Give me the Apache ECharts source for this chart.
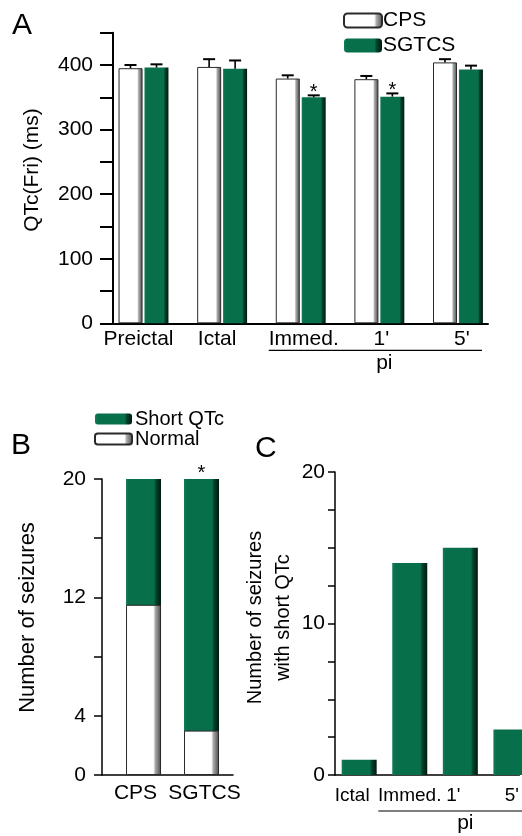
<!DOCTYPE html>
<html><head><meta charset="utf-8">
<script src="https://cdn.jsdelivr.net/npm/echarts@6/dist/echarts.min.js"></script>
<style>html,body{margin:0;padding:0;background:#fff}#c{width:522px;height:836px}</style>
</head><body><div id="c"></div>
<script>
const FONT = 'Liberation Sans, Arial, sans-serif';
// Panel A
const catsA = ['Preictal', 'Ictal', 'Immed.', "1'", "5'"];
const cpsA = [395, 397, 379, 378, 404];
const cpsErrA = [5, 12, 5, 5, 5];
const sgtcsA = [396, 394, 350, 351, 393];
const sgtcsErrA = [5, 13, 3, 5, 6];
const sgtcsSigA = [0, 0, 1, 1, 0];
const yLabelsA = [0, 100, 200, 300, 400];
// Panel B
const catsB = ['CPS', 'SGTCS'];
const normalB = [11.5, 3];
const shortB = [8.5, 17];
const sigB = [0, 1];
const yLabelsB = [0, 4, 12, 20];
// Panel C
const catsC = ['Ictal', 'Immed.', "1'", "5'"];
const shortC = [1, 14, 15, 3];
const yLabelsC = [0, 10, 20];
// "pi" brackets: [first index, last index, label index]
const piA = [2, 4, 3];
const piC = [1, 3, 2];
// label horizontal nudges (px), style only
const nudgeA = [-5, -5, 3, 2, 4];
const nudgeB = [-8, 3];
const nudgeC = [-7, 0, -7, 1];

const G = echarts.graphic;
const whiteFill = new G.LinearGradient(0, 0, 1, 0, [
  {offset: 0, color: '#ffffff'}, {offset: 0.78, color: '#ffffff'},
  {offset: 0.84, color: '#a8a8a8'}, {offset: 1, color: '#4a4a4a'}]);
const greenFill = new G.LinearGradient(0, 0, 1, 0, [
  {offset: 0, color: '#137c55'}, {offset: 0.08, color: '#07704a'}, {offset: 0.8, color: '#07704a'},
  {offset: 0.86, color: '#03412a'}, {offset: 1, color: '#011a0f'}]);
const whiteStyle = {color: whiteFill, borderColor: '#2a2a2a', borderWidth: 1};
const greenStyle = {color: greenFill};

function errRender(offset) {
  return function (params, api) {
    const i = api.value(0), v = api.value(1), e = api.value(2), s = api.value(3);
    const p0 = api.coord([i, v]), p1 = api.coord([i, v + e]);
    const x = p0[0] + offset;
    const ch = [
      {type: 'line', shape: {x1: x, y1: p0[1], x2: x, y2: p1[1]}, style: {stroke: '#000', lineWidth: 1.6}},
      {type: 'line', shape: {x1: x - 6, y1: p1[1], x2: x + 6, y2: p1[1]}, style: {stroke: '#000', lineWidth: 2}}
    ];
    if (s) ch.push({type: 'text', x: x, y: p1[1] - 2.5,
      style: {text: '*', fontSize: 20, fontFamily: FONT, fill: '#000', align: 'center', verticalAlign: 'middle'}});
    return {type: 'group', children: ch};
  };
}
function piRender(left, right, drop, fs) {
  return function (params, api) {
    const a = api.coord([api.value(0), 0]), b = api.coord([api.value(1), 0]), m = api.coord([api.value(2), 0]);
    return {type: 'group', children: [
      {type: 'line', shape: {x1: a[0] - left, y1: a[1] + drop, x2: b[0] + right, y2: a[1] + drop}, style: {stroke: '#000', lineWidth: 1.2}},
      {type: 'text', x: m[0] + 5, y: a[1] + drop + 2,
        style: {text: 'pi', fontSize: fs, fontFamily: FONT, fill: '#000', align: 'center', verticalAlign: 'top'}}
    ]};
  };
}
function starRender(params, api) {
  const i = api.value(0), v = api.value(1), s = api.value(2);
  if (!s) return null;
  const p = api.coord([i, v]);
  return {type: 'text', x: p[0], y: p[1] - 6,
    style: {text: '*', fontSize: 20, fontFamily: FONT, fill: '#000', align: 'center', verticalAlign: 'middle'}};
}
function catLabel(cats, nudges, fs) {
  const rich = {};
  nudges.forEach((d, i) => {
    rich['k' + i] = {fontSize: fs, fontFamily: FONT, color: '#000',
      padding: d < 0 ? [0, 0, 0, 2 * d] : [0, -2 * d, 0, 0]};
  });
  return {
    customValues: cats.map((c, i) => i),
    showMinLabel: true, showMaxLabel: true, hideOverlap: false,
    formatter: v => { const i = Math.round(v); return '{k' + i + '|' + cats[i] + '}'; },
    rich: rich, fontSize: fs, fontFamily: FONT, color: '#000'
  };
}

const txt = {color: '#000', fontFamily: FONT};
function yAxisCommon(lw, tickLen) {
  return {
    axisLine: {show: true, onZero: false, lineStyle: {color: '#000', width: lw}},
    axisTick: {show: true, inside: false, length: tickLen, lineStyle: {color: '#000', width: lw}},
    splitLine: {show: false}
  };
}
function xAxisLine(lw) {
  return {show: true, onZero: false, lineStyle: {color: '#000', width: lw}};
}

const option = {
  animation: false,
  backgroundColor: '#fff',
  textStyle: {fontFamily: FONT},
  title: [
    {text: 'A', left: 7, top: 6, textStyle: {fontSize: 30, fontWeight: 'normal', color: '#000', fontFamily: FONT}},
    {text: 'B', left: 6, top: 426, textStyle: {fontSize: 30, fontWeight: 'normal', color: '#000', fontFamily: FONT}},
    {text: 'C', left: 250, top: 429, textStyle: {fontSize: 30, fontWeight: 'normal', color: '#000', fontFamily: FONT}}
  ],
  legend: [
    {data: ['CPS', 'SGTCS'], orient: 'vertical', left: 343, top: 10, padding: 0, itemGap: 4,
      itemWidth: 38, itemHeight: 14, textStyle: {fontSize: 21, lineHeight: 21, color: '#000', fontFamily: FONT, padding: [0, 0, 0, -4]}},
    {data: ['Short QTc', 'Normal'], orient: 'vertical', left: 94, top: 409, padding: 0, itemGap: 0,
      itemWidth: 37, itemHeight: 11, textStyle: {fontSize: 20, lineHeight: 19, color: '#000', fontFamily: FONT, padding: [0, 0, 0, -2]}}
  ],
  grid: [
    {left: 113, top: 32.7, width: 375, height: 290.6},
    {left: 102, top: 479, width: 131, height: 296},
    {left: 335, top: 472, right: 0, height: 303}
  ],
  xAxis: [
    {gridIndex: 0, type: 'value', min: -0.388, max: 4.382,
      axisLine: xAxisLine(2), axisTick: {show: false}, splitLine: {show: false},
      axisLabel: {...catLabel(catsA, nudgeA, 21), margin: 5}},
    {gridIndex: 1, type: 'value', min: -0.716, max: 1.543,
      axisLine: xAxisLine(1.5), axisTick: {show: false}, splitLine: {show: false},
      axisLabel: {...catLabel(catsB, nudgeB, 21), margin: 8}},
    {gridIndex: 2, type: 'value', min: -0.478, max: 3.167,
      axisLine: xAxisLine(1.5), axisTick: {show: false}, splitLine: {show: false},
      axisLabel: {...catLabel(catsC, nudgeC, 19), margin: 11}}
  ],
  yAxis: [
    {gridIndex: 0, type: 'value', min: 0, max: 450, interval: 50, ...yAxisCommon(2, 13),
      axisLabel: {customValues: yLabelsA, fontSize: 21, margin: 20, ...txt},
      name: 'QTc(Fri) (ms)', nameLocation: 'middle', nameGap: 70,
      nameTextStyle: {fontSize: 21, padding: [0, 0, 0, 16], ...txt}},
    {gridIndex: 1, type: 'value', min: 0, max: 20, interval: 4, ...yAxisCommon(1.5, 8),
      axisLabel: {customValues: yLabelsB, fontSize: 21, margin: 16, ...txt},
      name: 'Number of seizures', nameLocation: 'middle', nameGap: 63,
      nameTextStyle: {fontSize: 22, padding: [0, 0, 0, 19], ...txt}},
    {gridIndex: 2, type: 'value', min: 0, max: 20, interval: 2.5, ...yAxisCommon(1.5, 7),
      axisLabel: {customValues: yLabelsC, fontSize: 21, margin: 10, ...txt},
      name: 'Number of seizures\nwith short QTc', nameLocation: 'middle', nameGap: 24,
      nameTextStyle: {fontSize: 20, lineHeight: 28, padding: [0, 0, 0, 12], ...txt}}
  ],
  series: [
    {name: 'CPS', type: 'bar', xAxisIndex: 0, yAxisIndex: 0, barWidth: 24, barGap: '8%',
      data: cpsA.map((v, i) => [i, v]), itemStyle: whiteStyle},
    {name: 'SGTCS', type: 'bar', xAxisIndex: 0, yAxisIndex: 0, barWidth: 24, barGap: '8%',
      data: sgtcsA.map((v, i) => [i, v]), itemStyle: greenStyle},
    {type: 'custom', xAxisIndex: 0, yAxisIndex: 0, renderItem: errRender(-13), z: 5,
      data: cpsA.map((v, i) => [i, v, cpsErrA[i], 0]), encode: {x: 0, y: 1}},
    {type: 'custom', xAxisIndex: 0, yAxisIndex: 0, renderItem: errRender(13), z: 5,
      data: sgtcsA.map((v, i) => [i, v, sgtcsErrA[i], sgtcsSigA[i]]), encode: {x: 0, y: 1}},
    {type: 'custom', xAxisIndex: 0, yAxisIndex: 0, renderItem: piRender(32, 24, 27, 21), clip: false,
      data: [piA], encode: {x: 0, y: -1}},

    // B: total (green, Short QTc on top) with Normal overlaid from the base
    {name: 'Short QTc', type: 'bar', xAxisIndex: 1, yAxisIndex: 1, barWidth: 35, barGap: '-100%',
      data: shortB.map((v, i) => [i, normalB[i] + v]), itemStyle: greenStyle},
    {name: 'Normal', type: 'bar', xAxisIndex: 1, yAxisIndex: 1, barWidth: 35, barGap: '-100%',
      data: normalB.map((v, i) => [i, v]), itemStyle: whiteStyle},
    {type: 'custom', xAxisIndex: 1, yAxisIndex: 1, renderItem: starRender, clip: false,
      data: sigB.map((s, i) => [i, normalB[i] + shortB[i], s]), encode: {x: 0, y: 1}},

    {name: 'C', type: 'bar', xAxisIndex: 2, yAxisIndex: 2, barWidth: 35,
      data: shortC.map((v, i) => [i, v]), itemStyle: greenStyle},
    {type: 'custom', xAxisIndex: 2, yAxisIndex: 2, renderItem: piRender(31.5, 60, 36, 21), clip: false,
      data: [piC], encode: {x: 0, y: -1}}
  ]
};
const chart = echarts.init(document.getElementById('c'), null, {renderer: 'canvas'});
chart.setOption(option);
</script>
</body></html>
